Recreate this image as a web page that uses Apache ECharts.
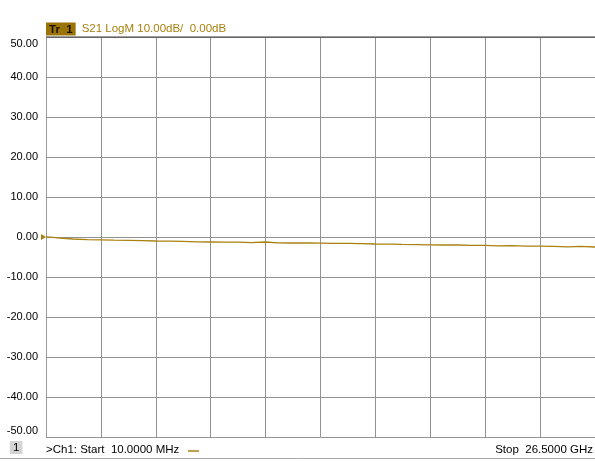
<!DOCTYPE html>
<html>
<head>
<meta charset="utf-8">
<script src="https://cdn.jsdelivr.net/npm/echarts@6/dist/echarts.min.js"></script>
<style>
html,body{margin:0;padding:0;background:#fff;}
#c{width:595px;height:461px;}
</style>
</head>
<body>
<div id="c"></div>
<script>
// Frequency (GHz) of trace points
var freqGHz = [0.01, 0.35, 0.7, 1.3, 2.0, 2.65, 3.3, 4.0, 4.65, 5.3, 6.0, 6.6, 7.3, 7.95, 8.6, 9.3, 9.9, 10.6, 11.2, 11.9, 12.6, 13.25, 13.9, 14.6, 15.2, 15.9, 16.6, 17.2, 17.9, 18.5, 19.2, 19.9, 20.5, 21.2, 21.8, 22.5, 23.2, 23.8, 24.5, 25.2, 25.8, 26.5];
// S21 magnitude (dB)
var s21dB = [0.05, -0.1, -0.3, -0.5, -0.65, -0.7, -0.8, -0.85, -0.9, -1.0, -1.05, -1.1, -1.2, -1.25, -1.3, -1.3, -1.4, -1.25, -1.45, -1.5, -1.5, -1.55, -1.6, -1.6, -1.65, -1.75, -1.8, -1.85, -1.9, -1.95, -2.0, -2.0, -2.1, -2.1, -2.2, -2.15, -2.3, -2.3, -2.35, -2.45, -2.35, -2.5];
var yTicks = [-50, -40, -30, -20, -10, 0, 10, 20, 30, 40, 50];
var xDivisions = 10;
var startLabel = '>Ch1: Start  10.0000 MHz';
var stopLabel = 'Stop  26.5000 GHz';
var traceTitle = 'S21 LogM 10.00dB/  0.00dB';
var traceTag = 'Tr  1';
var channelNo = '1';

var gold = '#a9810f';
var font = 'Liberation Sans';
var chart = echarts.init(document.getElementById('c'), null, {renderer: 'canvas'});
var pts = freqGHz.map(function (f, i) { return [f, s21dB[i]]; });

chart.setOption({
  animation: false,
  backgroundColor: '#fff',
  textStyle: {fontFamily: font},
  title: [{
    text: '{tag|' + traceTag + '}{sp| }{t|' + traceTitle + '}',
    left: 46, top: 23, padding: 0,
    textStyle: {
      fontWeight: 'normal',
      rich: {
        tag: {backgroundColor: '#9c7306', color: '#1a1000', fontSize: 11.5, fontFamily: font, padding: [1, 3, 0, 3], fontWeight: 'bold', lineHeight: 12},
        sp: {fontSize: 11.5, fontFamily: font, width: 6},
        t: {color: gold, fontSize: 11.5, fontFamily: font, fontWeight: 'normal'}
      }
    }
  }, {
    text: '{n|' + channelNo + '}',
    left: 10, top: 441, padding: 0,
    textStyle: {fontWeight: 'normal', rich: {n: {backgroundColor: '#d4d4d4', color: '#000', fontSize: 11.5, fontFamily: font, padding: [1, 3, 0, 3]}}}
  }, {
    text: startLabel,
    left: 46, top: 444, padding: 0,
    textStyle: {color: '#000', fontSize: 11.5, fontWeight: 'normal', fontFamily: font}
  }, {
    text: stopLabel,
    right: 2, top: 444, padding: 0,
    textStyle: {color: '#000', fontSize: 11.5, fontWeight: 'normal', fontFamily: font}
  }],
  graphic: [
    {type: 'line', shape: {x1: 188, y1: 451, x2: 199, y2: 451}, style: {stroke: gold, lineWidth: 1.5}},
    {type: 'line', shape: {x1: 0, y1: 458.5, x2: 595, y2: 458.5}, style: {stroke: '#a8a8a8', lineWidth: 1}}
  ],
  grid: {left: 46, right: 0, top: 37, bottom: 24, containLabel: false, show: false},
  xAxis: [{
    type: 'value', min: freqGHz[0], max: freqGHz[freqGHz.length - 1],
    axisLine: {show: false}, axisTick: {show: false}, axisLabel: {show: false}, splitLine: {show: false}
  }, {
    type: 'value', min: 0, max: xDivisions, interval: 1, position: 'bottom',
    axisLine: {show: false}, axisTick: {show: false}, axisLabel: {show: false},
    splitLine: {show: true, lineStyle: {color: '#929292', width: 1}}
  }],
  yAxis: {
    type: 'value', min: yTicks[0], max: yTicks[yTicks.length - 1], interval: 10,
    axisLine: {show: true, lineStyle: {color: '#9a9a9a'}}, axisTick: {show: false},
    axisLabel: {
      color: '#000', fontSize: 11, fontFamily: font, margin: 8,
      formatter: function (v) {
        var s = v.toFixed(2);
        if (v === yTicks[yTicks.length - 1]) return '{top|' + s + '}';
        if (v === yTicks[0]) return '{bot|' + s + '}';
        return s;
      },
      rich: {
        top: {fontSize: 11, color: '#000', fontFamily: font, padding: [13, 0, 0, 0]},
        bot: {fontSize: 11, color: '#000', fontFamily: font, padding: [0, 0, 13, 0]}
      }
    },
    splitLine: {show: true, lineStyle: {color: '#929292', width: 1}}
  },
  series: [{
    type: 'line', xAxisIndex: 0, data: pts, showSymbol: false, symbol: 'none',
    lineStyle: {color: gold, width: 1.3}, clip: false,
    markPoint: {
      symbol: 'triangle', symbolSize: [6, 5], symbolRotate: -90, symbolOffset: [-2.5, 0],
      itemStyle: {color: gold}, label: {show: false},
      data: [{coord: [freqGHz[0], 0]}]
    }
  }, {
    type: 'line', xAxisIndex: 0, data: [[freqGHz[0], yTicks[yTicks.length - 1]], [freqGHz[freqGHz.length - 1], yTicks[yTicks.length - 1]]],
    symbol: 'none', lineStyle: {color: '#555', width: 1.5}, silent: true
  }]
});
</script>
</body>
</html>
